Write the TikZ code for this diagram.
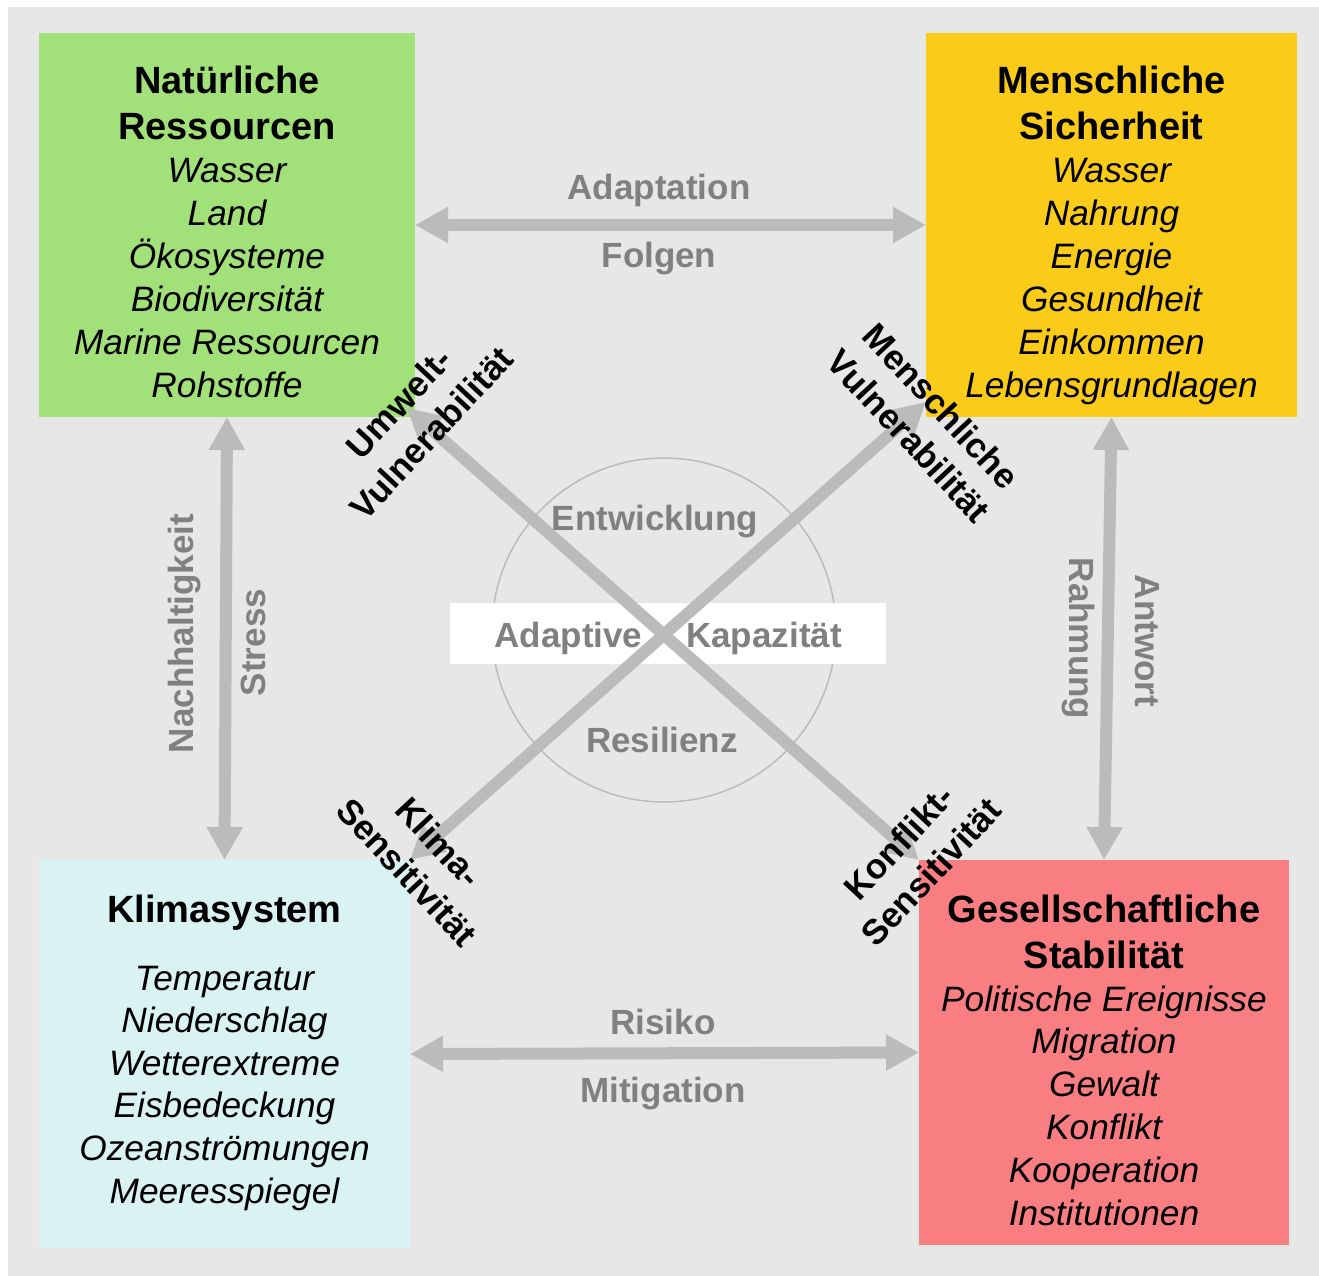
\documentclass[tikz,border=0pt]{standalone}
\usepackage{fontspec}
\setmainfont{Liberation Sans}
\usetikzlibrary{arrows.meta,calc}
\definecolor{bggrey}{RGB}{231,231,231}
\definecolor{natgreen}{RGB}{162,224,122}
\definecolor{menyellow}{RGB}{250,203,25}
\definecolor{klicyan}{RGB}{217,243,242}
\definecolor{gesred}{RGB}{249,126,129}
\definecolor{arrowgrey}{RGB}{187,187,187}
\definecolor{labelgrey}{RGB}{128,128,128}
\begin{document}
\begin{tikzpicture}[x=1pt,y=-1pt,
  areabox/.style={rectangle, draw=none, inner sep=0, outer sep=0},
  title/.style={font=\bfseries\fontsize{38}{46}\selectfont, anchor=base, inner sep=0},
  item/.style={font=\itshape\fontsize{35.3}{43}\selectfont, anchor=base, inner sep=0},
  glabel/.style={font=\bfseries\fontsize{35}{42}\selectfont, text=labelgrey, anchor=base, inner sep=0},
  dlabel/.style={font=\bfseries\fontsize{35}{44}\selectfont, align=center, inner sep=0},
  conn/.style={draw=arrowgrey, line width=12pt,
    {Triangle[width=34pt,length=33pt]}-{Triangle[width=34pt,length=33pt]}}
]
\useasboundingbox (0,0) rectangle (1319,1276);
\fill[white] (0,0) rectangle (1319,1276);
\fill[bggrey] (8,7) rectangle (1319,1276);

% boxes
\node[areabox, fill=natgreen, minimum width=376pt, minimum height=384pt] (nat) at (227,225) {};
\node[areabox, fill=menyellow, minimum width=371pt, minimum height=384pt] (men) at (1111.5,225) {};
\node[areabox, fill=klicyan, minimum width=371pt, minimum height=388pt] (kli) at (224.5,1054) {};
\node[areabox, fill=gesred, minimum width=370pt, minimum height=385pt] (ges) at (1104,1052.5) {};

% centre circle and band
\node[circle, draw=arrowgrey, line width=1.5pt, minimum size=344pt, inner sep=0] (cap) at (664,630) {};
\node[areabox, fill=white, minimum width=436pt, minimum height=61pt] (band) at (668,633.5) {};

% connectors
\draw[conn] (nat.east) -- (men.west);
\draw[conn] (kli.east) -- (ges.west);
\draw[conn] (nat.south) -- (kli.north);
\draw[conn] (men.south) -- (ges.north);
\draw[conn] ($(nat.south east)+(-8,-9)$) -- (ges.north west);
\draw[conn] ($(men.south west)+(0,-15)$) -- (kli.north east);

% box texts
\node[title] (nat-t1) at (227,93.5) {Natürliche};
\node[title] (nat-t2) at (227,140) {Ressourcen};
\foreach \txt [count=\i] in {Wasser,Land,Ökosysteme,Biodiversität,Marine Ressourcen,Rohstoffe}
  \node[item] (nat-i\i) at (227,{183+42.8*(\i-1)}) {\txt};

\node[title] (men-t1) at (1111.5,93.5) {Menschliche};
\node[title] (men-t2) at (1111.5,140) {Sicherheit};
\foreach \txt [count=\i] in {Wasser,Nahrung,Energie,Gesundheit,Einkommen,Lebensgrundlagen}
  \node[item] (men-i\i) at (1111.5,{183+42.8*(\i-1)}) {\txt};

\node[title] (kli-t1) at (224.5,922) {Klimasystem};
\foreach \txt [count=\i] in {Temperatur,Niederschlag,Wetterextreme,Eisbedeckung,Ozeanströmungen,Meeresspiegel}
  \node[item] (kli-i\i) at (224.5,{990+42.6*(\i-1)}) {\txt};

\node[title] (ges-t1) at (1104,922) {Gesellschaftliche};
\node[title] (ges-t2) at (1104,968) {Stabilität};
\foreach \txt [count=\i] in {Politische Ereignisse,Migration,Gewalt,Konflikt,Kooperation,Institutionen}
  \node[item] (ges-i\i) at (1104,{1011+42.8*(\i-1)}) {\txt};

% grey connector labels
\node[glabel] (adapt) at (659,199.5) {Adaptation};
\node[glabel] (folgen) at (659,267.5) {Folgen};
\node[glabel] (risiko) at (663,1034.5) {Risiko};
\node[glabel] (mitig) at (663,1102.5) {Mitigation};
\node[glabel, rotate=90] (nachh) at (193,633.5) {Nachhaltigkeit};
\node[glabel, rotate=90] (stress) at (265,642.5) {Stress};
\node[glabel, rotate=-90] (rahm) at (1069,638.5) {Rahmung};
\node[glabel, rotate=-90] (antw) at (1135,641) {Antwort};

% centre labels
\node[glabel] (entw) at (655,530.5) {Entwicklung};
\node[glabel] (adpt) at (568.5,647) {Adaptive};
\node[glabel] (kapa) at (764,647) {Kapazität};
\node[glabel] (resi) at (662,752) {Resilienz};

% diagonal labels
\node[dlabel, rotate=47] (umw) at (415,418) {Umwelt-\\Vulnerabilität};
\node[dlabel, rotate=-47] (menv) at (925,421) {Menschliche\\Vulnerabilität};
\node[dlabel, rotate=-47] (klis) at (423,857) {Klima-\\Sensitivität};
\node[dlabel, rotate=47] (kons) at (915,857) {Konflikt-\\Sensitivität};
\end{tikzpicture}
\end{document}
